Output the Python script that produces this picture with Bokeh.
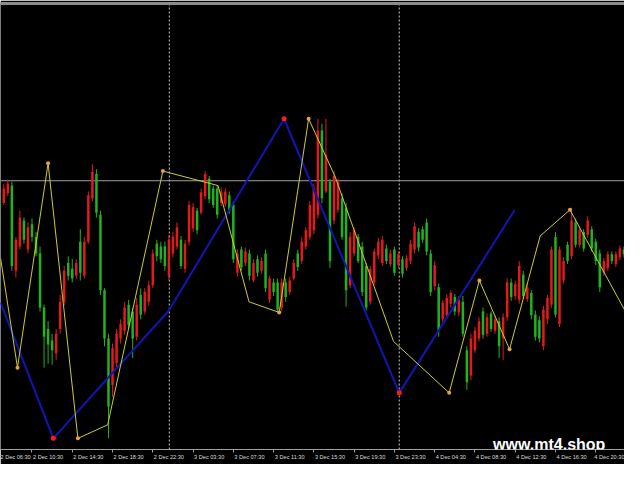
from bokeh.plotting import figure
from bokeh.models import Range1d, FixedTicker, LinearAxis, Span, Label, ColumnDataSource
from bokeh.embed import file_html
from bokeh.resources import INLINE

# ---- data (prices in points) ----
bar_index = list(range(2, 158))
opens = [295, 290, 300, 308, 220, 245, 272, 242, 268, 255, 238, 182, 160, 148, 135, 160, 188, 228, 222, 215,
         250, 215, 250, 295, 320, 278, 200, 150, 102, 125, 150, 158, 185, 178, 152, 195, 178, 188, 205, 248,
         245, 245, 215, 238, 245, 252, 222, 250, 264, 282, 280, 297, 315, 305, 305, 290, 289, 298, 288, 218,
         242, 228, 238, 210, 232, 220, 238, 190, 208, 208, 182, 208, 198, 212, 238, 230, 245, 255, 262, 278,
         365, 302, 312, 272, 283, 295, 285, 205, 238, 255, 245, 225, 188, 208, 236, 228, 243, 227, 242, 226,
         232, 223, 230, 242, 260, 263, 270, 238, 204, 203, 170, 174, 186, 193, 177, 188, 138, 112, 138, 150,
         178, 155, 176, 158, 168, 150, 172, 208, 194, 190, 216, 191, 197, 175, 169, 142, 170, 185, 255, 165,
         210, 247, 235, 270, 247, 260, 257, 263, 250, 238, 218, 223, 237, 227, 234, 242]
closes = [285, 305, 310, 225, 252, 275, 252, 265, 255, 238, 182, 152, 144, 138, 155, 188, 220, 215, 212, 228,
          218, 250, 298, 322, 280, 200, 150, 80, 140, 155, 165, 182, 164, 150, 185, 175, 198, 205, 238, 235,
          232, 225, 252, 255, 265, 225, 248, 288, 286, 262, 301, 320, 294, 288, 278, 302, 302, 282, 232, 238,
          224, 240, 215, 228, 218, 230, 202, 212, 198, 180, 208, 193, 210, 228, 224, 250, 262, 288, 305, 365,
          295, 340, 230, 318, 312, 255, 200, 255, 262, 230, 198, 182, 222, 240, 250, 252, 230, 238, 218, 237,
          217, 233, 248, 266, 244, 252, 240, 198, 226, 158, 187, 192, 197, 178, 190, 155, 105, 150, 158, 168,
          154, 172, 160, 170, 142, 172, 208, 193, 206, 225, 194, 203, 174, 152, 150, 180, 192, 242, 175, 242,
          230, 230, 272, 247, 262, 243, 272, 243, 230, 203, 230, 237, 230, 237, 243, 237]
highs = [300, 310, 314, 312, 255, 282, 275, 270, 274, 260, 245, 185, 168, 155, 160, 195, 225, 235, 232, 232,
         263, 255, 302, 330, 325, 282, 202, 155, 145, 160, 170, 188, 190, 182, 192, 202, 202, 210, 242, 252,
         250, 250, 257, 260, 270, 256, 252, 292, 290, 285, 305, 323, 318, 308, 308, 306, 305, 302, 292, 242,
         245, 244, 242, 232, 236, 234, 242, 215, 212, 212, 212, 212, 214, 232, 242, 255, 265, 292, 310, 377,
         372, 377, 315, 323, 315, 300, 290, 260, 265, 258, 250, 228, 225, 243, 254, 256, 247, 242, 245, 240,
         235, 236, 252, 270, 264, 266, 274, 242, 230, 207, 190, 196, 200, 196, 194, 194, 142, 155, 162, 172,
         182, 176, 178, 174, 172, 176, 212, 212, 210, 230, 220, 207, 200, 179, 173, 184, 195, 245, 260, 245,
         234, 250, 285, 274, 266, 263, 276, 266, 253, 242, 233, 240, 240, 240, 246, 245]
lows = [282, 288, 297, 220, 213, 242, 248, 238, 250, 235, 178, 120, 124, 123, 128, 155, 184, 210, 208, 212,
        210, 212, 248, 292, 275, 195, 142, 47, 90, 120, 145, 154, 160, 130, 148, 170, 175, 184, 202, 230,
        228, 220, 210, 234, 242, 222, 218, 246, 260, 258, 278, 294, 290, 285, 274, 287, 286, 279, 228, 214,
        220, 225, 210, 208, 214, 217, 198, 187, 194, 177, 178, 188, 195, 210, 220, 227, 242, 252, 258, 274,
        290, 300, 223, 268, 280, 252, 183, 202, 235, 228, 194, 179, 185, 205, 232, 225, 227, 224, 215, 223,
        213, 220, 227, 238, 240, 249, 236, 194, 200, 152, 167, 170, 182, 174, 173, 152, 97, 107, 135, 147,
        150, 152, 157, 155, 130, 128, 168, 189, 190, 186, 191, 188, 170, 148, 146, 138, 165, 182, 172, 162,
        207, 227, 232, 244, 244, 240, 254, 240, 226, 198, 215, 220, 227, 224, 231, 234]

tick_labels = ["2 Dec 06:30", "2 Dec 10:30", "2 Dec 14:30", "2 Dec 18:30", "2 Dec 22:30",
               "3 Dec 03:30", "3 Dec 07:30", "3 Dec 11:30", "3 Dec 15:30", "3 Dec 19:30",
               "3 Dec 23:30", "4 Dec 04:30", "4 Dec 08:30", "4 Dec 12:30", "4 Dec 16:30", "4 Dec 20:30"]

yellow_bar = [2.2, 6.4, 14.0, 21.4, 28.8, 42.5, 56.2, 63.9, 71.4, 78.7, 85.3, 99.8, 113.6, 121.1, 128.6,
              136.2, 143.6, 157.1]
yellow_price = [233, 120, 331, 47, 61, 323, 308, 188, 177, 377, 317, 147, 94, 210, 139, 256, 283, 180]
yellow_pivot = [0, 1, 1, 1, 0, 1, 0, 0, 1, 1, 0, 0, 1, 1, 1, 0, 1, 0]

blue_bar = [2.2, 15.3, 44.0, 72.6, 101.2, 129.9]
blue_price = [187, 47, 179, 377, 94, 283]
blue_pivot = [0, 1, 0, 1, 1, 0]

level_price = 313
day_breaks = [44.1, 101.2]

# ---- figure ----
p = figure(width=624, height=464, x_range=Range1d(2.18, 157.14), y_range=Range1d(35.5, 496),
           output_backend="svg", toolbar_location=None, background_fill_color="black",
           border_fill_color="black", outline_line_color=None, y_axis_location=None,
           min_border_left=0, min_border_right=0, min_border_top=3, min_border_bottom=15)
p.grid.visible = False

# day separators and level line (behind candles)
for b in day_breaks:
    p.add_layout(Span(location=b, dimension="height", line_color="#c8c8c8", line_dash="2 2",
                      line_width=1, level="underlay"))
p.add_layout(Span(location=level_price, dimension="width", line_color="#a0a0a0", line_width=1,
                  level="underlay"))

UP, DOWN = "#e3191a", "#1fb41f"
colors = [UP if c > o else DOWN for o, c in zip(opens, closes)]
src = ColumnDataSource(dict(x=bar_index, h=highs, l=lows,
                            top=[max(o, c) for o, c in zip(opens, closes)],
                            bottom=[min(o, c) for o, c in zip(opens, closes)],
                            color=colors))
p.segment(x0="x", y0="h", x1="x", y1="l", line_color="color", line_width=1, source=src)
p.vbar(x="x", width=0.62, top="top", bottom="bottom", fill_color="color", line_color=None, source=src)

# zigzags
p.line(blue_bar, blue_price, line_color="#1414b4", line_width=2)
p.scatter([b for b, f in zip(blue_bar, blue_pivot) if f], [v for v, f in zip(blue_price, blue_pivot) if f],
          size=5, fill_color="#ff1a1a", line_color=None)
p.line(yellow_bar, yellow_price, line_color="#cccc33", line_width=1)
p.scatter([b for b, f in zip(yellow_bar, yellow_pivot) if f],
          [v for v, f in zip(yellow_price, yellow_pivot) if f],
          size=4, fill_color="#e8a040", line_color=None)

# bottom time axis
ax = p.xaxis[0]
ax.ticker = FixedTicker(ticks=[10 * k + 4 for k in range(len(tick_labels))],
                        minor_ticks=[10 * k for k in range(len(tick_labels))])
ax.major_label_overrides = {10 * k + 4: lab for k, lab in enumerate(tick_labels)}
ax.major_tick_line_color = None
ax.major_tick_out = 0
ax.major_tick_in = 0
ax.minor_tick_line_color = "#a0a0a0"
ax.minor_tick_out = 3
ax.minor_tick_in = 0
ax.axis_line_color = "#a0a0a0"
ax.major_label_text_color = "#dcdcdc"
ax.major_label_text_font = "Liberation Sans"
ax.major_label_text_font_size = "5.6px"
ax.major_label_standoff = 1

# top gray border
top_axis = LinearAxis(ticker=FixedTicker(ticks=[]), axis_line_color="#8c8c8c", axis_line_width=3,
                      major_tick_line_color=None, minor_tick_line_color=None,
                      major_tick_out=0, minor_tick_out=0, major_label_standoff=0)
p.add_layout(top_axis, "above")

# watermark
p.add_layout(Label(x=124.5, y=41, text="www.mt4.shop", text_color="white", text_font="Liberation Sans",
                   text_font_style="bold", text_font_size="16px", text_baseline="alphabetic"))

open("out.html", "w").write(file_html(p, INLINE))
